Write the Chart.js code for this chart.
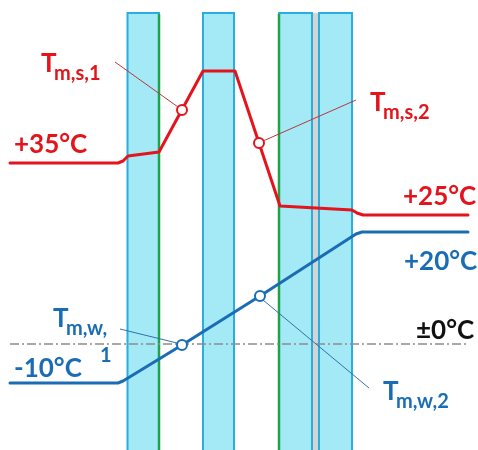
<!DOCTYPE html>
<html>
<head>
<meta charset="utf-8">
<script src="https://cdn.jsdelivr.net/npm/chart.js@4/dist/chart.umd.min.js"></script>
<style>
  html, body { margin: 0; padding: 0; background: #fff; }
  #wrap { width: 478px; height: 450px; }
</style>
</head>
<body>
<div id="wrap"><canvas id="chart" width="478" height="450"></canvas></div>
<script>
// Schematic: position through the glazing (x) against temperature level (y, diagram units)

// glass panes [left, right], gas gap between pane 3 and 4
const PANES = [[127.5, 159], [203, 234], [279, 312], [319, 352]];
const PANE_TOP = 437;
const GAP = [312, 319];
const COATINGS = [159, 279]; // low-e coated faces (green)

// summer profile (red)
const SUMMER_X = [10, 118, 123, 128, 159, 203, 235, 280, 352, 357, 363, 468];
const SUMMER_Y = [287, 287, 289, 294, 298, 379, 379, 244, 240, 237, 235, 235];

// winter profile (blue)
const WINTER_X = [10, 118, 123, 128, 182, 260, 356, 362, 468];
const WINTER_Y = [67, 67, 69, 72, 105, 154, 216, 218, 218];

// mean pane temperatures (markers)
const SUMMER_MEAN = [[182, 340], [259, 307]];
const WINTER_MEAN = [[182, 105], [260, 154]];

// leader lines [from, to]
const SUMMER_LEADERS = [[[115, 388], [178, 343]], [[263, 309], [356, 350]]];
const WINTER_LEADERS = [[[120, 121], [177, 107]], [[263, 150], [369, 62]]];

const ZERO_LEVEL = 106;
const ZERO_SPAN = [10, 468];

// labels: [text, subscript, x, y, colour]
const LABELS = [
  ['+35°C', '', 14, 297, 'red'],
  ['+25°C', '', 403, 245, 'red'],
  ['+20°C', '', 404, 180, 'blue'],
  ['-10°C', '', 14, 73, 'blue'],
  ['±0°C', '', 416, 111, 'black'],
  ['T', 'm,s,1', 41, 378, 'red'],
  ['T', 'm,s,2', 370, 339, 'red'],
  ['T', 'm,w,', 53, 123, 'blue'],
  ['', '1', 100, 88, 'blue'],
  ['T', 'm,w,2', 383, 50, 'blue'],
];

const C = {
  red: '#e3141b',
  redThin: '#b9383b',
  blue: '#1a6db5',
  blueThin: '#2f72aa',
  black: '#111111',
  paneFill: '#a3e9f6',
  paneBorder: '#2aaee0',
  gap: '#d4d4d4',
  green: '#1ea34a',
  dash: '#8c8c8c',
};

const pts = (xs, ys) => xs.map((x, i) => ({x, y: ys[i]}));

const datasets = [];

PANES.forEach(([l, r]) => datasets.push({
  data: [{x: l, y: -3}, {x: l, y: PANE_TOP}, {x: r, y: PANE_TOP}, {x: r, y: -3}],
  borderColor: C.paneBorder, borderWidth: 2, backgroundColor: C.paneFill,
  fill: 'origin', pointRadius: 0, order: 20,
}));

datasets.push({
  data: [{x: GAP[0] + 1, y: -3}, {x: GAP[0] + 1, y: PANE_TOP}, {x: GAP[1] - 1, y: PANE_TOP}, {x: GAP[1] - 1, y: -3}],
  borderWidth: 0, backgroundColor: C.gap, fill: 'origin', pointRadius: 0, order: 19,
});

COATINGS.forEach((x) => datasets.push({
  data: [{x, y: -3}, {x, y: PANE_TOP - 1}],
  borderColor: C.green, borderWidth: 2.5, pointRadius: 0, order: 15,
}));

datasets.push({
  data: [{x: ZERO_SPAN[0], y: ZERO_LEVEL}, {x: ZERO_SPAN[1], y: ZERO_LEVEL}],
  borderColor: C.dash, borderWidth: 1.3, borderDash: [9, 3, 2, 3], pointRadius: 0, order: 14,
});

[...SUMMER_LEADERS.map((s) => [s, C.redThin]), ...WINTER_LEADERS.map((s) => [s, C.blueThin])]
  .forEach(([[a, b], color]) => datasets.push({
    data: [{x: a[0], y: a[1]}, {x: b[0], y: b[1]}],
    borderColor: color, borderWidth: 1, pointRadius: 0, order: 8,
  }));

datasets.push({
  data: pts(SUMMER_X, SUMMER_Y), borderColor: C.red, borderWidth: 3,
  pointRadius: 0, borderJoinStyle: 'round', borderCapStyle: 'round', order: 5,
});
datasets.push({
  data: pts(WINTER_X, WINTER_Y), borderColor: C.blue, borderWidth: 3,
  pointRadius: 0, borderJoinStyle: 'round', borderCapStyle: 'round', order: 5,
});

datasets.push({
  data: SUMMER_MEAN.map(([x, y]) => ({x, y})), showLine: false,
  pointRadius: 5, pointBorderWidth: 2, pointBackgroundColor: '#fff', pointBorderColor: C.red, order: 1,
});
datasets.push({
  data: WINTER_MEAN.map(([x, y]) => ({x, y})), showLine: false,
  pointRadius: 5, pointBorderWidth: 2, pointBackgroundColor: '#fff', pointBorderColor: C.blue, order: 1,
});

const FONT = 'Lato, "Open Sans", sans-serif';

const labelPlugin = {
  id: 'labels',
  afterDraw(chart) {
    const {ctx, scales: {x, y}} = chart;
    ctx.save();
    ctx.textBaseline = 'alphabetic';
    ctx.textAlign = 'left';
    LABELS.forEach(([text, sub, vx, vy, col]) => {
      const px = x.getPixelForValue(vx);
      const py = y.getPixelForValue(vy);
      ctx.fillStyle = C[col];
      if (text) {
        ctx.font = `bold 26px ${FONT}`;
        ctx.fillText(text, px, py);
      }
      if (sub) {
        ctx.font = `bold 20px ${FONT}`;
        ctx.fillText(sub, text ? px + 13 : px, text ? py + 8 : py);
      }
    });
    ctx.restore();
  },
};

new Chart(document.getElementById('chart'), {
  type: 'line',
  data: {datasets},
  options: {
    responsive: false,
    animation: false,
    events: [],
    layout: {padding: 0, autoPadding: false},
    elements: {line: {tension: 0}},
    plugins: {legend: {display: false}, tooltip: {enabled: false}},
    scales: {
      x: {type: 'linear', min: 0, max: 478, display: false},
      y: {type: 'linear', min: 0, max: 450, display: false},
    },
  },
  plugins: [labelPlugin],
});
</script>
</body>
</html>
